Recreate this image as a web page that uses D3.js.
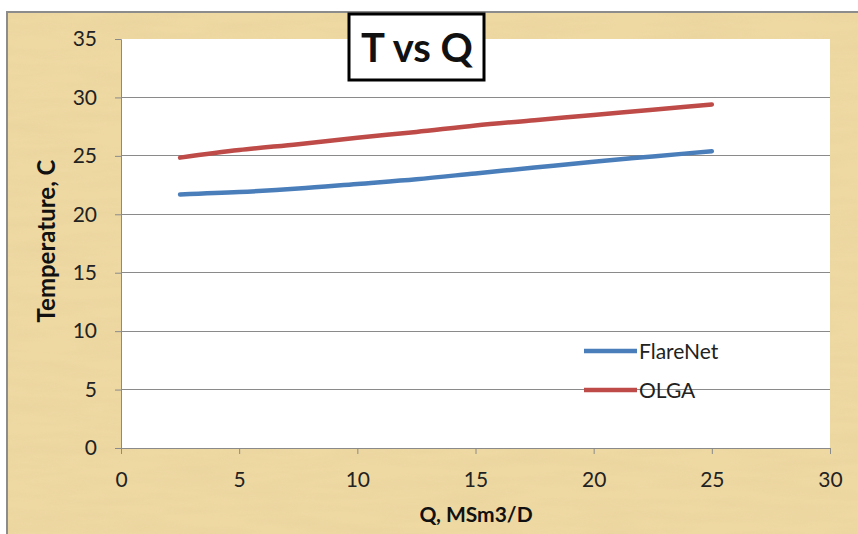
<!DOCTYPE html>
<html>
<head>
<meta charset="utf-8">
<script src="https://cdn.jsdelivr.net/npm/d3@7"></script>
<style>
html,body{margin:0;padding:0;background:#fff;}
svg{display:block;}
text{font-family:"Lato","Open Sans",sans-serif;}
</style>
</head>
<body>
<svg id="chart" width="858" height="534"></svg>
<script>
const qValues = [2.5, 5, 7.5, 10, 12.5, 15, 17.5, 20, 22.5, 25];
const flareNet = [21.7, 21.9, 22.2, 22.6, 23.0, 23.5, 24.0, 24.5, 24.95, 25.4];
const olga = [24.85, 25.5, 26.0, 26.55, 27.05, 27.6, 28.05, 28.5, 28.95, 29.4];
const seriesNames = ["FlareNet", "OLGA"];
const xTicks = [0, 5, 10, 15, 20, 25, 30];
const yTicks = [0, 5, 10, 15, 20, 25, 30, 35];
const titleText = "T vs Q";
const xTitle = "Q, MSm3/D";
const yTitle = "Temperature, C";

const svg = d3.select("#chart");
const W = 858, H = 534;
const m = {left:121, right:830, top:39, bottom:448};

// parchment background
const defs = svg.append("defs");
const f = defs.append("filter").attr("id","paper").attr("x",0).attr("y",0).attr("width","100%").attr("height","100%");
f.append("feTurbulence").attr("type","fractalNoise").attr("baseFrequency","0.012 0.09").attr("numOctaves",3).attr("seed",4).attr("result","noise");
f.append("feColorMatrix").attr("in","noise").attr("type","matrix")
 .attr("values","0 0 0 0 0.78  0 0 0 0 0.62  0 0 0 0 0.32  0 0 0 -1.1 0.75").attr("result","tint");
f.append("feComposite").attr("in","tint").attr("in2","SourceGraphic").attr("operator","in");

svg.append("rect").attr("x",7).attr("y",12).attr("width",W).attr("height",H)
  .attr("fill","#EFD9A3").attr("stroke","#8c8c8c").attr("stroke-width",2);
svg.append("rect").attr("x",8).attr("y",13).attr("width",W).attr("height",H)
  .attr("fill","#EFD9A3").attr("filter","url(#paper)").attr("opacity",0.6);

const x = d3.scaleLinear().domain([0,30]).range([m.left,m.right]);
const y = d3.scaleLinear().domain([0,35]).range([m.bottom,m.top]);

// plot area
svg.append("rect").attr("x",m.left).attr("y",m.top).attr("width",m.right-m.left).attr("height",m.bottom-m.top).attr("fill","#fff");

// gridlines
svg.append("g").selectAll("line").data(yTicks.filter(d=>d>0 && d<35)).join("line")
  .attr("x1",m.left).attr("x2",m.right).attr("y1",d=>y(d)).attr("y2",d=>y(d))
  .attr("stroke","#8a8a8a").attr("stroke-width",1).attr("shape-rendering","crispEdges");

// axes
const xAxis = svg.append("g").attr("transform",`translate(0,${m.bottom})`)
  .call(d3.axisBottom(x).tickValues(xTicks).tickSize(6).tickPadding(18));
const yAxis = svg.append("g").attr("transform",`translate(${m.left},0)`)
  .call(d3.axisLeft(y).tickValues(yTicks).tickSize(6).tickPadding(18));
[xAxis,yAxis].forEach(g=>{
  g.select(".domain").attr("stroke","#8a8a8a");
  g.selectAll(".tick line").attr("stroke","#8a8a8a");
  g.selectAll(".tick text").attr("fill","#222").style("font-size","21px").style("font-family","Lato, sans-serif");
});

// lines
const line = d3.line().x((d,i)=>x(qValues[i])).y(d=>y(d)).curve(d3.curveMonotoneX);
const colors = ["#4A7EBB","#BE4B48"];
[flareNet, olga].forEach((s,i)=>{
  svg.append("path").attr("d",line(s)).attr("fill","none").attr("stroke",colors[i])
    .attr("stroke-width",4.5).attr("stroke-linecap","round");
});

// legend
const lg = svg.append("g");
seriesNames.forEach((n,i)=>{
  const ly = 351 + i*39;
  lg.append("line").attr("x1",584).attr("x2",637).attr("y1",ly).attr("y2",ly)
    .attr("stroke",colors[i]).attr("stroke-width",4.5);
  lg.append("text").attr("x",639).attr("y",ly).attr("dy","0.36em").attr("fill","#222")
    .style("font-size","21px").text(n);
});

// title box
svg.append("rect").attr("x",349).attr("y",14).attr("width",135).attr("height",66)
  .attr("fill","#fff").attr("stroke","#000").attr("stroke-width",3);
svg.append("text").attr("x",417).attr("y",48).attr("dy","0.36em").attr("text-anchor","middle")
  .style("font-size","40px").style("font-weight","bold").attr("fill","#111").text(titleText);

// axis titles
svg.append("text").attr("x",476).attr("y",522).attr("text-anchor","middle")
  .style("font-size","21px").style("font-weight","bold").attr("fill","#111").text(xTitle);
svg.append("text").attr("transform","translate(47,241) rotate(-90)").attr("text-anchor","middle")
  .attr("dy","0.35em").style("font-size","24px").style("font-weight","bold").attr("fill","#111").text(yTitle);
</script>
</body>
</html>
